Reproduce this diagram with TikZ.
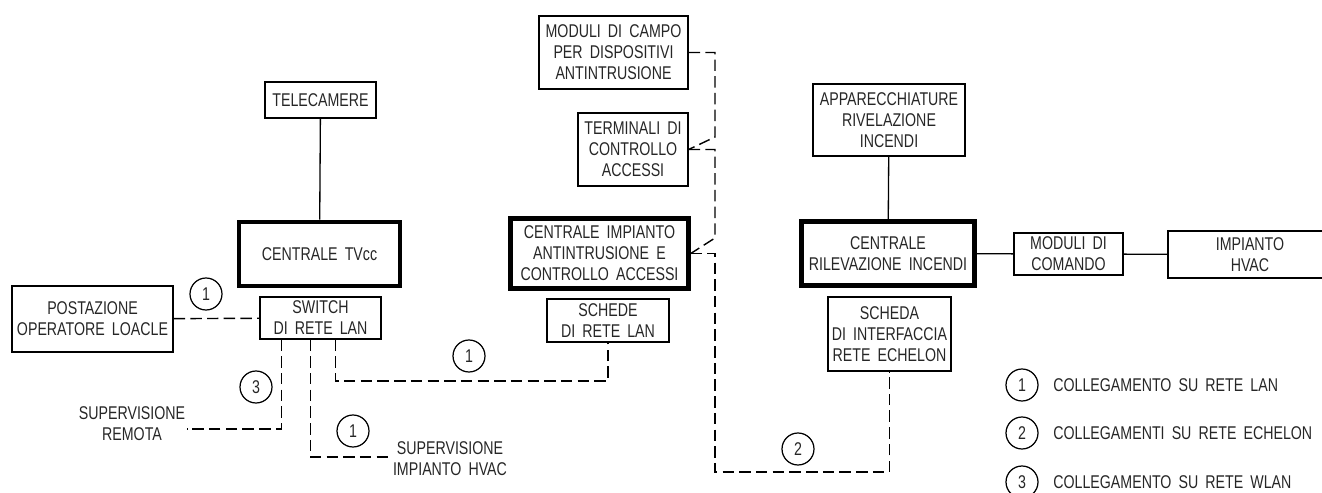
\documentclass[tikz,border=0pt]{standalone}
\usepackage{fontspec}
\setmainfont{Liberation Sans}[FakeStretch=0.77,WordSpace=1.8]
\usepackage{tikz}

\begin{document}
\begin{tikzpicture}[x=0.02cm,y=-0.02cm,
  box/.style={draw,line width=0.75pt,align=center,inner sep=1pt,text=black!85,font=\fontsize{10.5}{12}\selectfont},
  central/.style={box,line width=2.6pt},
  num/.style={draw,circle,line width=0.7pt,minimum size=0.64cm,inner sep=0pt,text=black!85,font=\fontsize{10.5}{12}\selectfont},
  lbl/.style={align=center,inner sep=0pt,text=black!85,font=\fontsize{10.5}{12}\selectfont},
  wire/.style={line width=0.75pt},
  link/.style={line width=0.8pt,dash pattern=on 6.5pt off 3pt}]
\useasboundingbox (0,0) rectangle (1322,493);
\clip (0,0) rectangle (1322,493);

% TVcc
\node [box, minimum width=2.22cm, minimum height=0.72cm] (tele) at (320.5,100) {TELECAMERE};
\node [central, minimum width=3.22cm, minimum height=1.28cm] (tvcc) at (319.5,254) {CENTRALE TVcc};
\node [box, minimum width=3.22cm, minimum height=1.32cm] (post) at (92.5,319) {POSTAZIONE\\OPERATORE LOACLE};
\node [box, minimum width=2.42cm, minimum height=0.84cm] (switch) at (320.5,318) {SWITCH\\DI RETE LAN};

% antintrusione
\node [box, minimum width=2.98cm, minimum height=1.46cm] (campo) at (613.5,52.5) {MODULI DI CAMPO\\PER DISPOSITIVI\\ANTINTRUSIONE};
\node [box, minimum width=2.2cm, minimum height=1.46cm] (term) at (633,149.5) {TERMINALI DI\\CONTROLLO\\ACCESSI};
\node [central, minimum width=3.56cm, minimum height=1.4cm] (centimp) at (599.5,253.5) {CENTRALE IMPIANTO\\ANTINTRUSIONE E\\CONTROLLO ACCESSI};
\node [box, minimum width=2.44cm, minimum height=0.86cm] (schede) at (608,320.5) {SCHEDE\\DI RETE LAN};

% incendi
\node [box, minimum width=3.04cm, minimum height=1.44cm] (appar) at (889,120) {APPARECCHIATURE\\RIVELAZIONE\\INCENDI};
\node [central, minimum width=3.46cm, minimum height=1.28cm] (cenril) at (888,253.5) {CENTRALE\\RILEVAZIONE INCENDI};
\node [box, minimum width=2.46cm, minimum height=1.48cm] (scheda) at (889.5,334) {SCHEDA\\DI INTERFACCIA\\RETE ECHELON};
\node [box, minimum width=2.18cm, minimum height=0.84cm] (coman) at (1068.5,254) {MODULI DI\\COMANDO};
\node [box, minimum width=3.28cm, minimum height=0.94cm] (hvac) at (1250,254.5) {IMPIANTO\\HVAC};

\node [lbl] (remota) at (132,424) {SUPERVISIONE\\REMOTA};
\node [lbl] (suphvac) at (450,459) {SUPERVISIONE\\IMPIANTO HVAC};

\coordinate (remend) at (187,429);
\coordinate (hvend) at (390,457);
\coordinate (lanbend) at (608,381);
\coordinate (k1) at (715,137);
\coordinate (k2) at (715,238);
\coordinate (k3) at (715,472);

\draw [wire] (tele) -- (tvcc);
\draw [wire] (appar) -- (cenril);
\draw [wire] (cenril) -- (coman);
\draw [wire] (coman) -- (hvac);

\draw [link] (post) -- (switch);
\draw [link] ([xshift=0.44cm]switch.south west) |- (remend);
\draw [link] ([xshift=1.02cm]switch.south west) |- (hvend);
\draw [link] ([xshift=1.52cm]switch.south west) |- (lanbend) -- (schede.south);
\draw [link] (campo.east) -| (k1) -- (term.east);
\draw [link] (term.east) -| (k2) -- (centimp.east);
\draw [link] (centimp.east) -| (k3) -| (scheda.south);

\node [num] (n1a) at (206,294) {1};
\node [num] (n3) at (256,387) {3};
\node [num] (n1b) at (353,431) {1};
\node [num] (n1c) at (469,356) {1};
\node [num] (n2) at (798,449) {2};

% legenda
\node [num] (leg1) at (1022,385) {1};
\node [num] (leg2) at (1022,433) {2};
\node [num] (leg3) at (1022,482) {3};
\node [lbl, anchor=west] (legt1) at (1053,385) {COLLEGAMENTO SU RETE LAN};
\node [lbl, anchor=west] (legt2) at (1053,433) {COLLEGAMENTI SU RETE ECHELON};
\node [lbl, anchor=west] (legt3) at (1053,482) {COLLEGAMENTO SU RETE WLAN};
\end{tikzpicture}
\end{document}
